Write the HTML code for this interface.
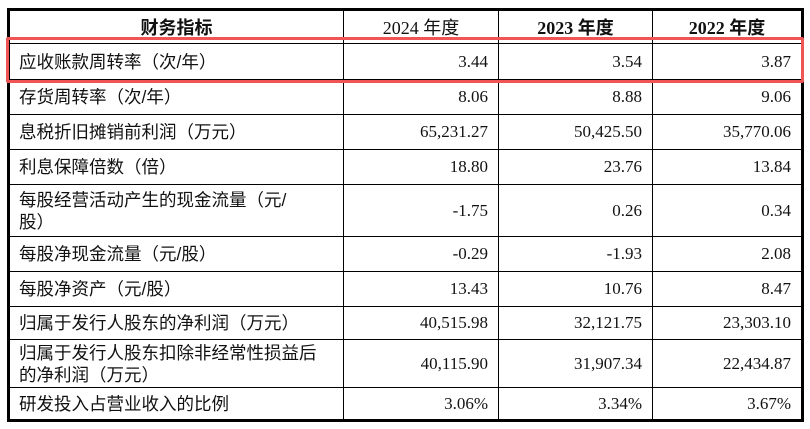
<!DOCTYPE html>
<html><head><meta charset="utf-8"><style>
html,body{margin:0;padding:0;background:#fff;width:810px;height:429px;overflow:hidden;}
table{position:absolute;left:7px;top:8px;border-collapse:collapse;border:3px solid #000;table-layout:fixed;font-family:"Liberation Serif","Noto Sans CJK SC",serif;font-size:17px;color:#111;}
td{border:1.5px solid #000;padding:0 10px;text-align:right;line-height:22px;}
td.l{text-align:left;font-family:"Liberation Sans","Noto Sans CJK SC",sans-serif;padding-left:9px;font-size:17.5px;}
th{border:1.5px solid #000;font-weight:normal;text-align:center;font-size:18px;}
.b{font-weight:bold;}
#red{position:absolute;left:6px;top:37px;width:792px;height:40px;border:3px solid #f05555;border-radius:2px;}
</style></head><body>
<table>
<colgroup><col style="width:335px"><col style="width:155px"><col style="width:154px"><col style="width:150px"></colgroup>
<tr style="height:34px"><th class="b" style="font-family:'Liberation Sans','Noto Sans CJK SC',sans-serif">财务指标</th><th>2024 年度</th><th class="b">2023 年度</th><th class="b">2022 年度</th></tr>
<tr style="height:36px"><td class="l">应收账款周转率（次/年）</td><td>3.44</td><td>3.54</td><td>3.87</td></tr>
<tr style="height:35px"><td class="l">存货周转率（次/年）</td><td>8.06</td><td>8.88</td><td>9.06</td></tr>
<tr style="height:35px"><td class="l">息税折旧摊销前利润（万元）</td><td>65,231.27</td><td>50,425.50</td><td>35,770.06</td></tr>
<tr style="height:35px"><td class="l">利息保障倍数（倍）</td><td>18.80</td><td>23.76</td><td>13.84</td></tr>
<tr style="height:52px"><td class="l">每股经营活动产生的现金流量（元/<br>股）</td><td>-1.75</td><td>0.26</td><td>0.34</td></tr>
<tr style="height:35px"><td class="l">每股净现金流量（元/股）</td><td>-0.29</td><td>-1.93</td><td>2.08</td></tr>
<tr style="height:35px"><td class="l">每股净资产（元/股）</td><td>13.43</td><td>10.76</td><td>8.47</td></tr>
<tr style="height:33px"><td class="l">归属于发行人股东的净利润（万元）</td><td>40,515.98</td><td>32,121.75</td><td>23,303.10</td></tr>
<tr style="height:48px"><td class="l">归属于发行人股东扣除非经常性损益后<br>的净利润（万元）</td><td>40,115.90</td><td>31,907.34</td><td>22,434.87</td></tr>
<tr style="height:33px"><td class="l">研发投入占营业收入的比例</td><td>3.06%</td><td>3.34%</td><td>3.67%</td></tr>
</table>
<div id="red"></div>
</body></html>
